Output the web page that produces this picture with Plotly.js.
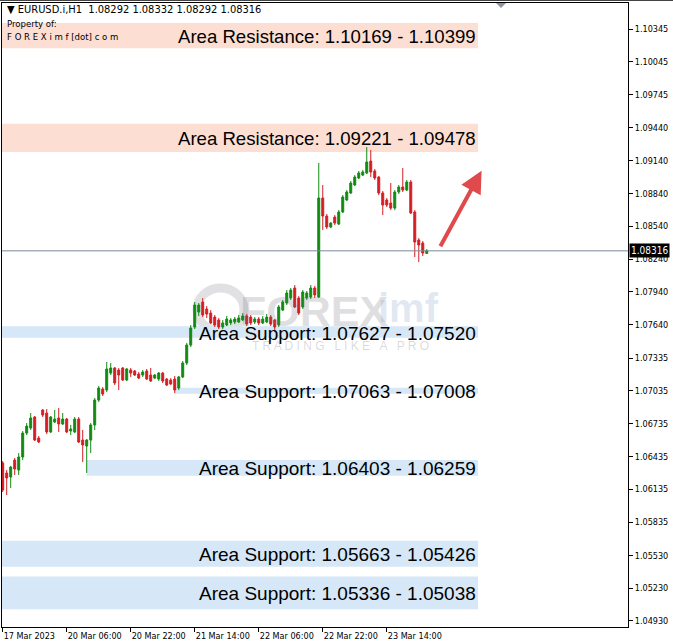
<!DOCTYPE html>
<html>
<head>
<meta charset="utf-8">
<script src="https://cdn.plot.ly/plotly-3.0.1.min.js"></script>
<style>
html,body{margin:0;padding:0;background:#fff;}
#chart{width:673px;height:644px;}
</style>
</head>
<body>
<div id="chart"></div>
<script>
// ---- Data (EURUSD.i, H1) ----
const barIndex = Array.from({length:107}, (_, i) => i);
const openP = [
1.06375,1.06284,1.06247,1.06402,1.06311,1.06430,1.06649,1.06695,1.06796,1.06604,
1.06860,1.06832,1.06659,1.06750,1.06787,1.06732,1.06777,1.06668,1.06659,1.06777,
1.06585,1.06530,1.06585,1.06723,1.06951,1.07052,1.07043,1.07198,1.07244,1.07226,
1.07244,1.07134,1.07226,1.07217,1.07189,1.07180,1.07217,1.07180,1.07152,1.07143,
1.07198,1.07143,1.07134,1.07143,1.07061,1.07162,1.07290,1.07454,1.07619,1.07756,
1.07848,1.07784,1.07747,1.07710,1.07683,1.07619,1.07637,1.07656,1.07665,1.07665,
1.07683,1.07720,1.07710,1.07665,1.07692,1.07656,1.07665,1.07710,1.07683,1.07637,
1.07774,1.07838,1.07884,1.07976,1.07884,1.07802,1.07884,1.07893,1.07976,1.07893,
1.08799,1.08634,1.08534,1.08625,1.08561,1.08671,1.08781,1.08845,1.08918,1.08982,
1.09009,1.09028,1.09137,1.09046,1.08991,1.08845,1.08781,1.08753,1.08707,1.08854,
1.08900,1.08872,1.08945,1.08671,1.08415,1.08387,1.08292];
const highP = [
1.06393,1.06311,1.06348,1.06421,1.06466,1.06668,1.06741,1.06832,1.06805,1.06622,
1.06869,1.06869,1.06805,1.06860,1.06878,1.06832,1.06787,1.06723,1.06796,1.06796,
1.06677,1.06595,1.06741,1.06970,1.07079,1.07070,1.07299,1.07290,1.07253,1.07244,
1.07253,1.07244,1.07244,1.07226,1.07207,1.07226,1.07235,1.07244,1.07189,1.07207,
1.07207,1.07152,1.07152,1.07171,1.07171,1.07308,1.07473,1.07637,1.07848,1.07838,
1.07884,1.07811,1.07774,1.07729,1.07701,1.07683,1.07720,1.07701,1.07710,1.07729,
1.07747,1.07738,1.07729,1.07710,1.07710,1.07720,1.07738,1.07729,1.07692,1.07820,
1.07866,1.07957,1.07976,1.08003,1.07902,1.07957,1.07948,1.08003,1.07994,1.09119,
1.08918,1.08653,1.08579,1.08643,1.08689,1.08826,1.08872,1.08954,1.09009,1.09046,
1.09055,1.09265,1.09238,1.09064,1.09000,1.08863,1.08799,1.08936,1.08872,1.08918,
1.09073,1.08964,1.08964,1.08689,1.08433,1.08406,1.08332];
const lowP = [
1.06110,1.06082,1.06146,1.06265,1.06265,1.06402,1.06631,1.06677,1.06576,1.06558,
1.06796,1.06640,1.06649,1.06741,1.06659,1.06723,1.06649,1.06631,1.06649,1.06558,
1.06384,1.06284,1.06466,1.06677,1.06933,1.06988,1.07024,1.07180,1.07088,1.07043,
1.07125,1.07125,1.07162,1.07171,1.07143,1.07162,1.07134,1.07116,1.07143,1.07125,
1.07107,1.07079,1.07088,1.07015,1.07043,1.07152,1.07271,1.07436,1.07601,1.07720,
1.07710,1.07701,1.07646,1.07619,1.07601,1.07601,1.07628,1.07637,1.07646,1.07656,
1.07674,1.07628,1.07637,1.07646,1.07637,1.07646,1.07656,1.07628,1.07573,1.07619,
1.07765,1.07820,1.07866,1.07793,1.07729,1.07784,1.07866,1.07875,1.07884,1.07884,
1.08506,1.08515,1.08524,1.08552,1.08552,1.08662,1.08772,1.08836,1.08909,1.08973,
1.09000,1.09018,1.08991,1.08964,1.08826,1.08643,1.08717,1.08689,1.08689,1.08836,
1.08854,1.08863,1.08653,1.08259,1.08213,1.08268,1.08292];
const closeP = [
1.06128,1.06238,1.06338,1.06320,1.06430,1.06649,1.06713,1.06787,1.06585,1.06567,
1.06814,1.06659,1.06796,1.06777,1.06732,1.06777,1.06659,1.06686,1.06777,1.06567,
1.06540,1.06585,1.06723,1.06951,1.07061,1.07006,1.07235,1.07244,1.07107,1.07180,
1.07134,1.07235,1.07198,1.07180,1.07152,1.07207,1.07143,1.07125,1.07180,1.07198,
1.07125,1.07088,1.07098,1.07043,1.07162,1.07290,1.07454,1.07610,1.07820,1.07820,
1.07729,1.07738,1.07656,1.07637,1.07619,1.07656,1.07692,1.07683,1.07692,1.07701,
1.07720,1.07646,1.07656,1.07692,1.07656,1.07692,1.07710,1.07646,1.07619,1.07802,
1.07848,1.07930,1.07957,1.07802,1.07747,1.07939,1.07930,1.07976,1.07912,1.08799,
1.08634,1.08534,1.08570,1.08570,1.08671,1.08808,1.08854,1.08936,1.08991,1.09028,
1.09037,1.09128,1.09037,1.08982,1.08845,1.08735,1.08735,1.08707,1.08854,1.08900,
1.08872,1.08945,1.08662,1.08396,1.08369,1.08296,1.08316];

const xTickIdx = [0,16,32,48,64,80,96];
const xTickText = ['17 Mar 2023','20 Mar 06:00','20 Mar 22:00','21 Mar 14:00','22 Mar 06:00','22 Mar 22:00','23 Mar 14:00'];
const yTickVals = [1.10345,1.10045,1.09745,1.09440,1.09140,1.08840,1.08540,1.08240,1.07940,1.07640,
                   1.07335,1.07035,1.06735,1.06435,1.06135,1.05835,1.05530,1.05230,1.04930];
const yTickText = yTickVals.map(v => v.toFixed(5));

// Zones: [kind, low, high, start bar (null = chart start)]
const zoneKind  = ['Resistance','Resistance','Support','Support','Support','Support','Support'];
const zoneLow   = [1.10169,1.09221,1.07520,1.07008,1.06259,1.05426,1.05038];
const zoneHigh  = [1.10399,1.09478,1.07627,1.07063,1.06403,1.05663,1.05336];
const zoneStart = [null,null,null,43,21,null,null];
const zoneText  = ['Area Resistance: 1.10169 - 1.10399','Area Resistance: 1.09221 - 1.09478',
                   'Area Support: 1.07627 - 1.07520','Area Support: 1.07063 - 1.07008',
                   'Area Support: 1.06403 - 1.06259','Area Support: 1.05663 - 1.05426',
                   'Area Support: 1.05336 - 1.05038'];
const zoneEndBar = 118.8;
const lastPrice = 1.08316;
const arrowTip = {bar:119.7, price:1.09049};

// ---- Layout helpers ----
const W = 673, H = 644, ML = 2, MR = 45, MT = 3, MB = 17;
const PW = W - ML - MR, PH = H - MT - MB;
const px = x => (x - ML) / PW;        // pixel -> paper x
const py = y => (H - MB - y) / PH;    // pixel -> paper y

const shapes = [];
const annotations = [];
const axisFont = {family:'DejaVu Sans Condensed, DejaVu Sans, sans-serif', size:9, color:'#000'};

zoneKind.forEach((k, i) => {
  const col = k === 'Resistance' ? '#fcdfd2' : '#d6e7f7';
  shapes.push({type:'rect', layer:'below', xref:'x', yref:'y',
    x0: zoneStart[i] === null ? -1 : zoneStart[i], x1: zoneEndBar,
    y0: zoneLow[i], y1: zoneHigh[i], fillcolor: col, line:{width:0}});
  annotations.push({xref:'x', yref:'y', x: zoneEndBar - 0.1, y:(zoneLow[i]+zoneHigh[i])/2,
    yshift:-1, text: zoneText[i], showarrow:false, xanchor:'right', yanchor:'middle',
    font:{family:'Liberation Sans, Arial, sans-serif', size: k === 'Resistance' ? 18.6 : 19, color:'#000'}});
});

// current price line
shapes.push({type:'line', xref:'paper', yref:'y', x0:0, x1:1, y0:lastPrice, y1:lastPrice,
  line:{color:'#7d8996', width:1}});
// top window line
shapes.push({type:'line', xref:'paper', yref:'paper', x0:px(0), x1:px(673), y0:py(0.5), y1:py(0.5),
  line:{color:'#444', width:1}});
// shift marker triangle
shapes.push({type:'path', xref:'paper', yref:'paper',
  path:`M ${px(496)} ${py(3)} L ${px(506)} ${py(3)} L ${px(501)} ${py(8)} Z`,
  fillcolor:'#8a96a3', line:{width:0}});
// watermark ring
shapes.push({type:'circle', xref:'paper', yref:'paper', layer:'below',
  x0:px(197), x1:px(244), y0:py(331), y1:py(288),
  line:{color:'rgba(120,120,130,0.22)', width:9}, fillcolor:'rgba(0,0,0,0)'});

// watermark text
annotations.push({xref:'paper', yref:'paper', x:px(238), y:py(311), xanchor:'left', yanchor:'middle',
  showarrow:false, text:'<b>FOREX</b>', font:{family:'Liberation Sans, Arial, sans-serif', size:43, color:'rgba(110,110,125,0.22)'}});
annotations.push({xref:'paper', yref:'paper', x:px(376), y:py(308), xanchor:'left', yanchor:'middle',
  showarrow:false, text:'<b>imf</b>', font:{family:'Liberation Sans, Arial, sans-serif', size:40, color:'rgba(120,150,200,0.22)'}});
annotations.push({xref:'paper', yref:'paper', x:px(340), y:py(346), xanchor:'center', yanchor:'middle',
  showarrow:false, text:'T R A D I N G   L I K E   A   P R O', font:{family:'Liberation Sans, Arial, sans-serif', size:12, color:'rgba(120,120,135,0.28)'}});

// header
annotations.push({xref:'paper', yref:'paper', x:px(5), y:py(10), xanchor:'left', yanchor:'middle',
  showarrow:false, text:'▼ EURUSD.i,H1  1.08292 1.08332 1.08292 1.08316',
  font:{family:'DejaVu Sans Condensed, DejaVu Sans, sans-serif', size:11, color:'#000'}});
annotations.push({xref:'paper', yref:'paper', x:px(5), y:py(24), xanchor:'left', yanchor:'middle',
  showarrow:false, text:'Property of:', font:{family:'DejaVu Sans Condensed, DejaVu Sans, sans-serif', size:9.5, color:'#000'}});
annotations.push({xref:'paper', yref:'paper', x:px(5), y:py(36), xanchor:'left', yanchor:'middle',
  showarrow:false, text:'F O R E X i m f [dot] c o m', font:{family:'DejaVu Sans Condensed, DejaVu Sans, sans-serif', size:9.5, color:'#000'}});

// arrow
annotations.push({xref:'x', yref:'y', x:arrowTip.bar, y:arrowTip.price, ax:-42, ay:77,
  showarrow:true, arrowhead:2, arrowsize:1.1, arrowwidth:4, arrowcolor:'#e04a4c', text:''});

// last price label
annotations.push({xref:'paper', yref:'y', x:1, y:lastPrice, xanchor:'left', yanchor:'middle',
  xshift:1, showarrow:false, text:lastPrice.toFixed(5), bgcolor:'#000', borderpad:1,
  font:{family:'DejaVu Sans Condensed, DejaVu Sans, sans-serif', size:10, color:'#fff'}});

const trace = {
  type:'candlestick', x:barIndex, open:openP, high:highP, low:lowP, close:closeP,
  increasing:{line:{color:'#128a12', width:1}, fillcolor:'#128a12'},
  decreasing:{line:{color:'#d21f24', width:1}, fillcolor:'#d21f24'},
  whiskerwidth:0, hoverinfo:'none', showlegend:false
};

const layout = {
  width:W, height:H,
  margin:{l:ML, r:MR, t:MT, b:MB, pad:0},
  paper_bgcolor:'#fff', plot_bgcolor:'#fff',
  showlegend:false,
  xaxis:{type:'linear', range:[-0.175,156.3], rangeslider:{visible:false},
    tickvals:xTickIdx, ticktext:xTickText, ticks:'outside', ticklen:4, tickcolor:'#000',
    ticklabelposition:'outside right', tickfont:axisFont,
    showline:true, mirror:true, linecolor:'#000', linewidth:1,
    showgrid:false, zeroline:false, fixedrange:true},
  yaxis:{side:'right', range:[1.04875,1.10583], tickvals:yTickVals, ticktext:yTickText,
    ticks:'outside', ticklen:4, tickcolor:'#000', tickfont:axisFont,
    showline:true, mirror:true, linecolor:'#000', linewidth:1,
    showgrid:false, zeroline:false, fixedrange:true},
  shapes:shapes, annotations:annotations
};

Plotly.newPlot('chart', [trace], layout, {staticPlot:true, displayModeBar:false});
</script>
</body>
</html>
